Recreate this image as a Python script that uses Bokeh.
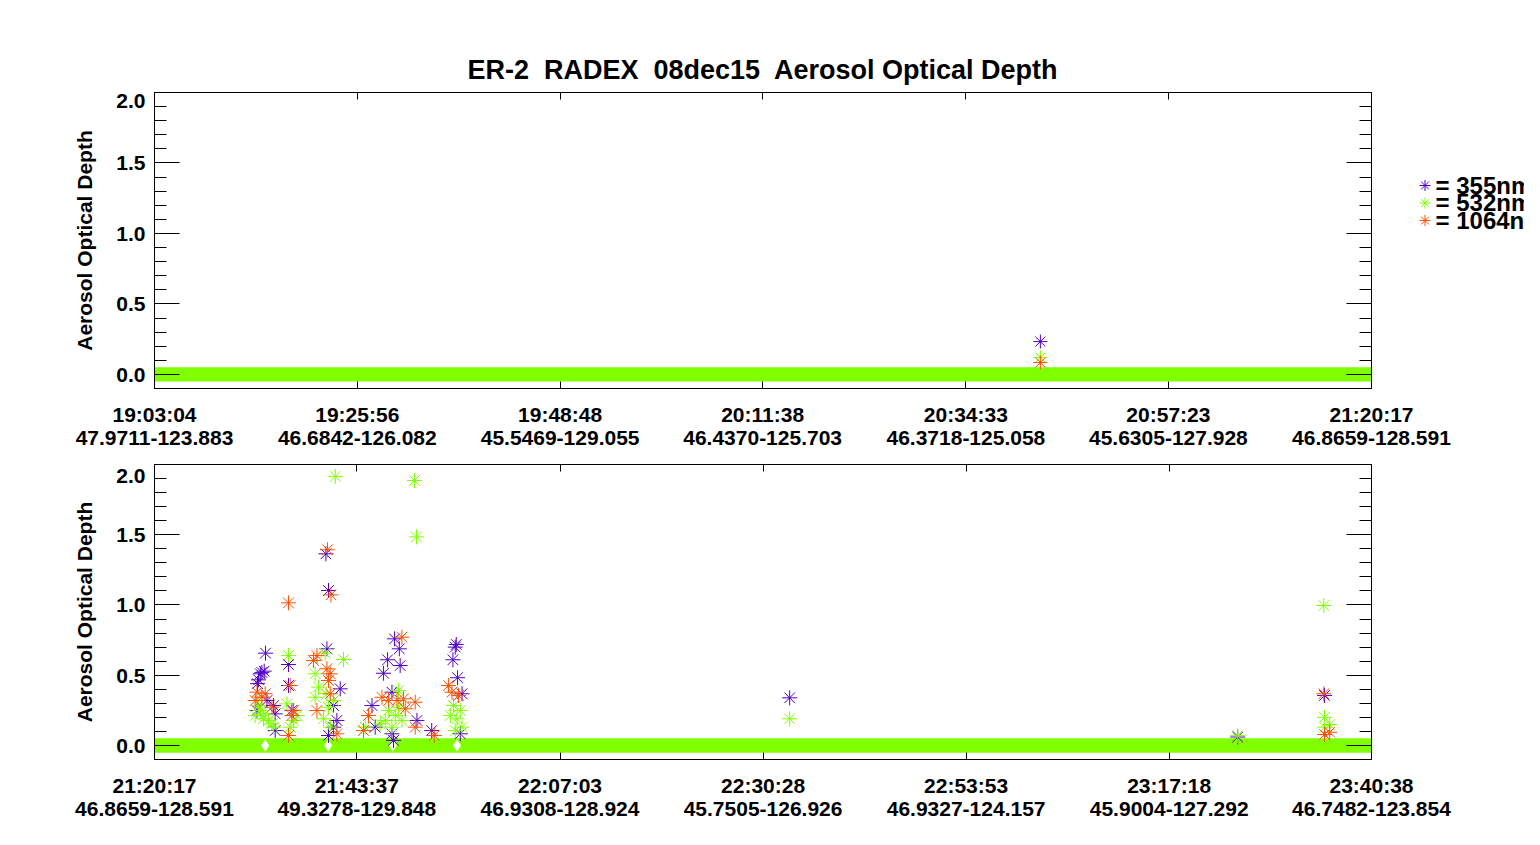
from bokeh.plotting import figure
from bokeh.models import (FixedTicker, LinearAxis, Range1d, PrintfTickFormatter)
from bokeh.core.properties import value
from bokeh.layouts import column, row
from bokeh.embed import file_html
from bokeh.resources import INLINE

PURPLE = "#5000c8"
GREEN = "#80ff00"
ORANGE = "#ff5000"
FONT = "Liberation Sans"

NB = "\u00a0 "
TITLE = "ER-2" + NB + "RADEX" + NB + "08dec15" + NB + "Aerosol Optical Depth"
YLABEL = "Aerosol Optical Depth"

# ---------------- legend ----------------
legend_labels = ["= 355nm", "= 532nm", "= 1064nm"]
legend_colors = [PURPLE, GREEN, ORANGE]
legend_rows = [0, 1, 2]

# ---------------- axis ticks (seconds of day UTC) ----------------
top_tick_t = [68584, 69956, 71328, 72698, 74073, 75443, 76817]
top_tick_time = ["19:03:04", "19:25:56", "19:48:48", "20:11:38", "20:34:33", "20:57:23", "21:20:17"]
top_tick_pos = ["47.9711-123.883", "46.6842-126.082", "45.5469-129.055", "46.4370-125.703",
                "46.3718-125.058", "45.6305-127.928", "46.8659-128.591"]
bot_tick_t = [76817, 78217, 79623, 81028, 82433, 83838, 85238]
bot_tick_time = ["21:20:17", "21:43:37", "22:07:03", "22:30:28", "22:53:53", "23:17:18", "23:40:38"]
bot_tick_pos = ["46.8659-128.591", "49.3278-129.848", "46.9308-128.924", "45.7505-126.926",
                "46.9327-124.157", "45.9004-127.292", "46.7482-123.854"]

y_major = [0.0, 0.5, 1.0, 1.5, 2.0]
y_major_labels = ["0.0", "0.5", "1.0", "1.5", "\n2.0"]
y_minor = [-0.1, 0.1, 0.2, 0.3, 0.4, 0.6, 0.7, 0.8, 0.9, 1.1, 1.2, 1.3, 1.4, 1.6, 1.7, 1.8, 1.9]

# ---------------- data: zero-AOD records (532 nm) ----------------
top_zero_t = [68584, 76817]
top_zero_aod = [0.0, 0.0]
bot_zero_t = [76817, 85238]
bot_zero_aod = [0.0, 0.0]

# flagged records drawn in white
bot_flag_t = [77583, 78019, 78466, 78910]
bot_flag_aod = [0.0, 0.0, 0.0, 0.0]

# ---------------- data: top panel ----------------
top_355_t = [74577]
top_355_aod = [0.233]
top_532_t = [74577]
top_532_aod = [0.12]
top_1064_t = [74577]
top_1064_aod = [0.084]

# ---------------- data: bottom panel ----------------
bot_355_t = [77585, 77744, 77576, 77549, 77537, 77560, 77530, 77595, 77641, 77652,
             77526, 77744, 77768, 77652, 78003, 78021, 78010, 78102, 78056, 78079,
             78056, 78021, 78478, 78511, 78430, 78517, 78402, 78460, 78322, 78633,
             78735, 78460, 78344, 78471, 78905, 78898, 78882, 78914, 78945, 78933,
             81212, 84913, 84312]
bot_355_aod = [0.657, 0.576, 0.529, 0.51, 0.467, 0.52, 0.44, 0.32, 0.284, 0.225,
               0.249, 0.427, 0.25, 0.106, 1.364, 1.103, 0.688, 0.403, 0.284, 0.178,
               0.13, 0.071, 0.759, 0.688, 0.61, 0.569, 0.514, 0.379, 0.284, 0.178,
               0.106, 0.083, 0.13, 0.036, 0.719, 0.70, 0.61, 0.482, 0.368, 0.083,
               0.339, 0.356, 0.06]

bot_532_t = [77744, 77583, 77549, 77606, 77630, 77571, 77537, 77641, 77514, 77733,
             77803, 77779, 77756, 78068, 78125, 77998, 77929, 77952, 78010, 77929,
             78056, 78021, 77987, 78033, 78616, 78630, 78506, 78437, 78483, 78529,
             78414, 78460, 78506, 78379, 78275, 78886, 78933, 78864, 78910, 78945,
             78898, 81212, 84908, 84913, 84949, 84913, 84312]
bot_532_aod = [0.64, 0.225, 0.249, 0.178, 0.154, 0.19, 0.284, 0.13, 0.213, 0.296,
               0.213, 0.178, 0.13, 1.915, 0.612, 0.657, 0.51, 0.415, 0.368, 0.343,
               0.32, 0.272, 0.19, 0.13, 1.886, 1.485, 0.391, 0.249, 0.213, 0.178,
               0.178, 0.13, 0.272, 0.154, 0.13, 0.284, 0.249, 0.213, 0.19, 0.13,
               0.106, 0.19, 0.996, 0.2, 0.149, 0.13, 0.07]

bot_1064_t = [77526, 77560, 77583, 77514, 77630, 77756, 77779, 77768, 77744, 77744,
              78014, 78038, 77941, 77917, 78010, 78033, 78021, 78033, 77941, 78079,
              78529, 78391, 78437, 78495, 78540, 78621, 78298, 78552, 78621, 78263,
              78875, 78921, 78852, 78753, 84908, 84949, 84913]
bot_1064_aod = [0.379, 0.343, 0.368, 0.32, 0.272, 0.427, 0.249, 0.213, 0.071, 1.015,
                1.393, 1.072, 0.64, 0.605, 0.546, 0.51, 0.462, 0.368, 0.249, 0.083,
                0.771, 0.343, 0.32, 0.32, 0.332, 0.308, 0.213, 0.261, 0.13, 0.106,
                0.379, 0.356, 0.427, 0.071, 0.368, 0.094, 0.078]


def style_text(obj, prefix, size):
    setattr(obj, prefix + "_text_font", FONT)
    setattr(obj, prefix + "_text_font_style", "bold")
    setattr(obj, prefix + "_text_font_size", size)
    setattr(obj, prefix + "_text_color", "black")


def make_panel(x0, x1, height, b_top, b_bottom, ticks, times, poss, ylh, title=None):
    p = figure(width=1524, height=height, x_range=Range1d(x0, x1),
               y_range=Range1d(-0.1, 2.0), output_backend="svg",
               toolbar_location=None, x_axis_type=None, y_axis_type=None,
               min_border_left=154, min_border_right=153,
               min_border_top=b_top, min_border_bottom=b_bottom,
               title=title)
    p.outline_line_color = "black"
    p.outline_line_width = 1
    if title is not None:
        p.title.align = "center"
        p.title.text_font = FONT
        p.title.text_font_style = "bold"
        p.title.text_font_size = "27px"
        p.title.text_color = "black"
        p.title.standoff = 15

    xb = LinearAxis(ticker=FixedTicker(ticks=ticks, minor_ticks=[]),
                    major_tick_in=7, major_tick_out=0,
                    minor_tick_in=0, minor_tick_out=0,
                    major_label_standoff=14, axis_line_color="black",
                    major_label_text_line_height=1.0)
    xb.major_label_overrides = {t: a + "\n" + b for t, a, b in zip(ticks, times, poss)}
    style_text(xb, "major_label", "21px")
    p.add_layout(xb, "below")

    xa = LinearAxis(ticker=FixedTicker(ticks=ticks, minor_ticks=[]), major_tick_in=7,
                    major_tick_out=0, minor_tick_in=0, minor_tick_out=0,
                    major_label_standoff=0, major_label_text_font_size="0px",
                    axis_line_color="black")
    xa.major_label_overrides = {t: "" for t in ticks}
    p.add_layout(xa, "above")

    yl = LinearAxis(ticker=FixedTicker(ticks=y_major, minor_ticks=y_minor),
                    formatter=PrintfTickFormatter(format="%.1f"),
                    major_tick_in=25, major_tick_out=0, minor_tick_in=12, minor_tick_out=0,
                    major_label_standoff=9, axis_label=YLABEL, axis_label_standoff=17,
                    axis_line_color="black", major_label_text_line_height=ylh)
    yl.major_label_overrides = {t: s for t, s in zip(y_major, y_major_labels)}
    style_text(yl, "major_label", "21px")
    style_text(yl, "axis_label", "21px")
    p.add_layout(yl, "left")

    yr = LinearAxis(ticker=FixedTicker(ticks=y_major, minor_ticks=y_minor),
                    major_tick_in=25, major_tick_out=0, minor_tick_in=12, minor_tick_out=0,
                    major_label_standoff=0, major_label_text_font_size="0px",
                    axis_line_color="black")
    yr.major_label_overrides = {t: "" for t in y_major}
    p.add_layout(yr, "right")
    return p


p1 = make_panel(68584, 76817, 451, 92, 63, top_tick_t, top_tick_time, top_tick_pos, 0.7,
                title=TITLE)
p2 = make_panel(76817, 85238, 378, 13, 70, bot_tick_t, bot_tick_time, bot_tick_pos, 0.56)

# top panel marks
p1.line(top_zero_t, top_zero_aod, line_color=GREEN, line_width=14.4, line_cap="butt")
p1.scatter(top_355_t, top_355_aod, marker="asterisk", size=14, line_color=PURPLE, line_width=1)
p1.scatter(top_532_t, top_532_aod, marker="asterisk", size=14, line_color=GREEN, line_width=1)
p1.scatter(top_1064_t, top_1064_aod, marker="asterisk", size=14, line_color=ORANGE, line_width=1)

# legend panel, laid over the right margin of the top plot; one row per wavelength
leg = figure(width=144, height=451, x_range=Range1d(-44.5, 99.5),
             y_range=Range1d(11.6, -5.314), output_backend="svg", toolbar_location=None,
             x_axis_type=None, y_axis_type=None, min_border_left=0, min_border_right=0,
             min_border_top=92, min_border_bottom=63)
leg.margin = (0, 0, 0, -144)
leg.outline_line_color = None
leg.background_fill_alpha = 0
leg.border_fill_alpha = 0
leg.grid.visible = False
leg.scatter(x=[0, 0, 0], y=legend_rows, marker="asterisk", size=11,
            line_color=legend_colors, line_width=1)
leg.text(x=[10.5, 10.5, 10.5], y=legend_rows, text=legend_labels, text_baseline="middle",
         text_align="left", text_font=value(FONT), text_font_style="bold",
         text_font_size="24px", text_color="black")

# bottom panel marks
p2.line(bot_zero_t, bot_zero_aod, line_color=GREEN, line_width=14.4, line_cap="butt")
p2.scatter(bot_flag_t, bot_flag_aod, marker="diamond", size=12, fill_color="white", line_color=None)
p2.scatter(bot_355_t, bot_355_aod, marker="asterisk", size=15, line_color=PURPLE, line_width=1)
p2.scatter(bot_532_t, bot_532_aod, marker="asterisk", size=15, line_color=GREEN, line_width=1)
p2.scatter(bot_1064_t, bot_1064_aod, marker="asterisk", size=15, line_color=ORANGE, line_width=1)

layout = column(row(p1, leg, spacing=0), p2, spacing=0)
open("out.html", "w").write(file_html(layout, INLINE))
